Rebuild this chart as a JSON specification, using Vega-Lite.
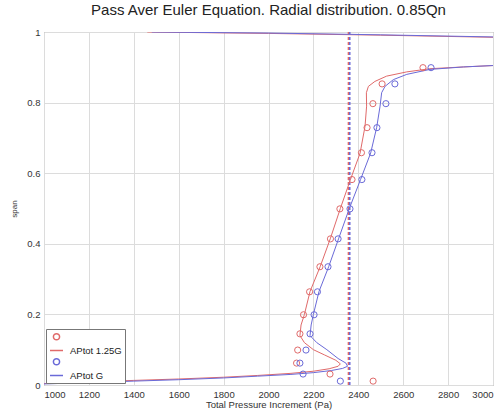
{
  "$schema": "https://vega.github.io/schema/vega-lite/v6.json",
  "width": 449,
  "height": 353,
  "autosize": "none",
  "padding": {"left": 44, "top": 32, "right": 9, "bottom": 27},
  "background": "white",
  "title": {
    "text": "Pass Aver Euler Equation. Radial distribution. 0.85Qn",
    "font": "Liberation Sans",
    "fontSize": 15,
    "fontWeight": "normal",
    "color": "#222222",
    "offset": 9
  },
  "config": {
    "view": {"stroke": "#8a8a8a", "strokeWidth": 1},
    "axis": {
      "grid": true,
      "gridColor": "#dcdcdc",
      "gridWidth": 1,
      "domain": false,
      "ticks": false,
      "labelFont": "Liberation Sans",
      "labelFontSize": 9.5,
      "labelColor": "#333333",
      "titleFont": "Liberation Sans",
      "titleFontWeight": "normal",
      "titleColor": "#333333"
    },
    "legend": {
      "labelFont": "Liberation Sans",
      "labelFontSize": 9.5,
      "labelColor": "#222222"
    }
  },
  "datasets": {
    "curves": [
      {"series": "APtot 1.25G", "part": "main", "x": 1000, "span": 0.004},
      {"series": "APtot 1.25G", "part": "main", "x": 1200, "span": 0.009},
      {"series": "APtot 1.25G", "part": "main", "x": 1400, "span": 0.013},
      {"series": "APtot 1.25G", "part": "main", "x": 1600, "span": 0.017},
      {"series": "APtot 1.25G", "part": "main", "x": 1800, "span": 0.022},
      {"series": "APtot 1.25G", "part": "main", "x": 1950, "span": 0.027},
      {"series": "APtot 1.25G", "part": "main", "x": 2100, "span": 0.033},
      {"series": "APtot 1.25G", "part": "main", "x": 2200, "span": 0.039},
      {"series": "APtot 1.25G", "part": "main", "x": 2270, "span": 0.046},
      {"series": "APtot 1.25G", "part": "main", "x": 2310, "span": 0.053},
      {"series": "APtot 1.25G", "part": "main", "x": 2320, "span": 0.06},
      {"series": "APtot 1.25G", "part": "main", "x": 2300, "span": 0.07},
      {"series": "APtot 1.25G", "part": "main", "x": 2250, "span": 0.085},
      {"series": "APtot 1.25G", "part": "main", "x": 2200, "span": 0.1},
      {"series": "APtot 1.25G", "part": "main", "x": 2160, "span": 0.12},
      {"series": "APtot 1.25G", "part": "main", "x": 2140, "span": 0.14},
      {"series": "APtot 1.25G", "part": "main", "x": 2145, "span": 0.17},
      {"series": "APtot 1.25G", "part": "main", "x": 2160, "span": 0.2},
      {"series": "APtot 1.25G", "part": "main", "x": 2185, "span": 0.265},
      {"series": "APtot 1.25G", "part": "main", "x": 2230, "span": 0.335},
      {"series": "APtot 1.25G", "part": "main", "x": 2275, "span": 0.414},
      {"series": "APtot 1.25G", "part": "main", "x": 2320, "span": 0.5},
      {"series": "APtot 1.25G", "part": "main", "x": 2365, "span": 0.582},
      {"series": "APtot 1.25G", "part": "main", "x": 2408, "span": 0.657},
      {"series": "APtot 1.25G", "part": "main", "x": 2430, "span": 0.733},
      {"series": "APtot 1.25G", "part": "main", "x": 2437, "span": 0.79},
      {"series": "APtot 1.25G", "part": "main", "x": 2436, "span": 0.828},
      {"series": "APtot 1.25G", "part": "main", "x": 2445, "span": 0.846},
      {"series": "APtot 1.25G", "part": "main", "x": 2474, "span": 0.86},
      {"series": "APtot 1.25G", "part": "main", "x": 2526, "span": 0.875},
      {"series": "APtot 1.25G", "part": "main", "x": 2616, "span": 0.887},
      {"series": "APtot 1.25G", "part": "main", "x": 2719, "span": 0.896},
      {"series": "APtot 1.25G", "part": "main", "x": 2868, "span": 0.901},
      {"series": "APtot 1.25G", "part": "main", "x": 3000, "span": 0.905},
      {"series": "APtot 1.25G", "part": "tip", "x": 1460, "span": 1.0},
      {"series": "APtot 1.25G", "part": "tip", "x": 2000, "span": 0.996},
      {"series": "APtot 1.25G", "part": "tip", "x": 2500, "span": 0.991},
      {"series": "APtot 1.25G", "part": "tip", "x": 3000, "span": 0.985},
      {"series": "APtot G", "part": "main", "x": 1000, "span": 0.003},
      {"series": "APtot G", "part": "main", "x": 1200, "span": 0.007},
      {"series": "APtot G", "part": "main", "x": 1400, "span": 0.011},
      {"series": "APtot G", "part": "main", "x": 1600, "span": 0.015},
      {"series": "APtot G", "part": "main", "x": 1800, "span": 0.02},
      {"series": "APtot G", "part": "main", "x": 1950, "span": 0.025},
      {"series": "APtot G", "part": "main", "x": 2100, "span": 0.03},
      {"series": "APtot G", "part": "main", "x": 2200, "span": 0.035},
      {"series": "APtot G", "part": "main", "x": 2280, "span": 0.041},
      {"series": "APtot G", "part": "main", "x": 2330, "span": 0.047},
      {"series": "APtot G", "part": "main", "x": 2352, "span": 0.053},
      {"series": "APtot G", "part": "main", "x": 2345, "span": 0.062},
      {"series": "APtot G", "part": "main", "x": 2310, "span": 0.075},
      {"series": "APtot G", "part": "main", "x": 2260, "span": 0.1},
      {"series": "APtot G", "part": "main", "x": 2215, "span": 0.12},
      {"series": "APtot G", "part": "main", "x": 2185, "span": 0.14},
      {"series": "APtot G", "part": "main", "x": 2190, "span": 0.17},
      {"series": "APtot G", "part": "main", "x": 2200, "span": 0.2},
      {"series": "APtot G", "part": "main", "x": 2225, "span": 0.265},
      {"series": "APtot G", "part": "main", "x": 2268, "span": 0.335},
      {"series": "APtot G", "part": "main", "x": 2312, "span": 0.414},
      {"series": "APtot G", "part": "main", "x": 2360, "span": 0.5},
      {"series": "APtot G", "part": "main", "x": 2410, "span": 0.582},
      {"series": "APtot G", "part": "main", "x": 2455, "span": 0.657},
      {"series": "APtot G", "part": "main", "x": 2482, "span": 0.73},
      {"series": "APtot G", "part": "main", "x": 2497, "span": 0.79},
      {"series": "APtot G", "part": "main", "x": 2504, "span": 0.828},
      {"series": "APtot G", "part": "main", "x": 2519, "span": 0.846},
      {"series": "APtot G", "part": "main", "x": 2556, "span": 0.865},
      {"series": "APtot G", "part": "main", "x": 2616, "span": 0.88},
      {"series": "APtot G", "part": "main", "x": 2719, "span": 0.894},
      {"series": "APtot G", "part": "main", "x": 2868, "span": 0.901},
      {"series": "APtot G", "part": "main", "x": 3000, "span": 0.905},
      {"series": "APtot G", "part": "tip", "x": 1480, "span": 1.0},
      {"series": "APtot G", "part": "tip", "x": 2000, "span": 0.997},
      {"series": "APtot G", "part": "tip", "x": 2500, "span": 0.992},
      {"series": "APtot G", "part": "tip", "x": 3000, "span": 0.986}
    ],
    "measured": [
      {"series": "o1", "x": 2688, "span": 0.899},
      {"series": "o1", "x": 2506, "span": 0.853},
      {"series": "o1", "x": 2465, "span": 0.797},
      {"series": "o1", "x": 2439, "span": 0.729},
      {"series": "o1", "x": 2414, "span": 0.658},
      {"series": "o1", "x": 2372, "span": 0.582},
      {"series": "o1", "x": 2318, "span": 0.499},
      {"series": "o1", "x": 2276, "span": 0.414},
      {"series": "o1", "x": 2229, "span": 0.335},
      {"series": "o1", "x": 2183, "span": 0.264},
      {"series": "o1", "x": 2156, "span": 0.199},
      {"series": "o1", "x": 2140, "span": 0.145},
      {"series": "o1", "x": 2130, "span": 0.099},
      {"series": "o1", "x": 2125, "span": 0.062},
      {"series": "o1", "x": 2274, "span": 0.031},
      {"series": "o1", "x": 2466, "span": 0.011},
      {"series": "o2", "x": 2724, "span": 0.899},
      {"series": "o2", "x": 2563, "span": 0.853},
      {"series": "o2", "x": 2523, "span": 0.797},
      {"series": "o2", "x": 2483, "span": 0.729},
      {"series": "o2", "x": 2461, "span": 0.658},
      {"series": "o2", "x": 2416, "span": 0.582},
      {"series": "o2", "x": 2363, "span": 0.499},
      {"series": "o2", "x": 2310, "span": 0.414},
      {"series": "o2", "x": 2265, "span": 0.335},
      {"series": "o2", "x": 2218, "span": 0.264},
      {"series": "o2", "x": 2203, "span": 0.199},
      {"series": "o2", "x": 2185, "span": 0.145},
      {"series": "o2", "x": 2167, "span": 0.099},
      {"series": "o2", "x": 2140, "span": 0.062},
      {"series": "o2", "x": 2154, "span": 0.031},
      {"series": "o2", "x": 2320, "span": 0.011}
    ],
    "averages": [
      {"series": "APtot 1.25G", "x": 2356},
      {"series": "APtot G", "x": 2362}
    ]
  },
  "layer": [
    {
      "data": {"name": "averages"},
      "mark": {"type": "rule", "strokeWidth": 1.5, "strokeDash": [3, 2]},
      "encoding": {
        "x": {
          "field": "x",
          "type": "quantitative",
          "scale": {"domain": [1000, 3000], "nice": false, "zero": false},
          "axis": {
            "values": [1000, 1200, 1400, 1600, 1800, 2000, 2200, 2400, 2600, 2800, 3000],
            "format": "d",
            "labelPadding": 4,
            "title": "Total Pressure Increment (Pa)",
            "titleFontSize": 9.5,
            "titlePadding": 1
          }
        },
        "color": {
          "field": "series",
          "type": "nominal",
          "scale": {
            "domain": ["o1", "APtot 1.25G", "o2", "APtot G"],
            "range": ["#e06a6a", "#e06a6a", "#6a6ad8", "#6a6ad8"]
          },
          "legend": {
            "title": null,
            "orient": "bottom-left",
            "offset": 2,
            "strokeColor": "#777777",
            "fillColor": "white",
            "padding": 3,
            "rowPadding": 0,
            "labelOffset": 6,
            "labelExpr": "datum.label == 'o1' || datum.label == 'o2' ? '' : datum.label"
          }
        }
      }
    },
    {
      "data": {"name": "curves"},
      "mark": {"type": "line", "strokeWidth": 1, "clip": true},
      "encoding": {
        "x": {"field": "x", "type": "quantitative"},
        "y": {
          "field": "span",
          "type": "quantitative",
          "scale": {"domain": [0, 1], "nice": false},
          "axis": {
            "values": [0, 0.1, 0.2, 0.3, 0.4, 0.5, 0.6, 0.7, 0.8, 0.9, 1],
            "format": "~g",
            "labelPadding": 4,
            "title": "span",
            "titleFontSize": 8,
            "titlePadding": 8
          }
        },
        "color": {"field": "series", "type": "nominal"},
        "detail": {"field": "part", "type": "nominal"},
        "order": {"field": "span", "type": "quantitative"}
      }
    },
    {
      "data": {"name": "measured"},
      "mark": {"type": "point", "filled": false, "strokeWidth": 1, "opacity": 1},
      "encoding": {
        "x": {"field": "x", "type": "quantitative"},
        "y": {"field": "span", "type": "quantitative"},
        "color": {"field": "series", "type": "nominal"},
        "shape": {
          "field": "series",
          "type": "nominal",
          "scale": {
            "domain": ["o1", "APtot 1.25G", "o2", "APtot G"],
            "range": ["circle", "stroke", "circle", "stroke"]
          }
        },
        "size": {
          "field": "series",
          "type": "nominal",
          "scale": {
            "type": "ordinal",
            "domain": ["o1", "APtot 1.25G", "o2", "APtot G"],
            "range": [38, 169, 38, 169]
          }
        }
      }
    }
  ]
}
